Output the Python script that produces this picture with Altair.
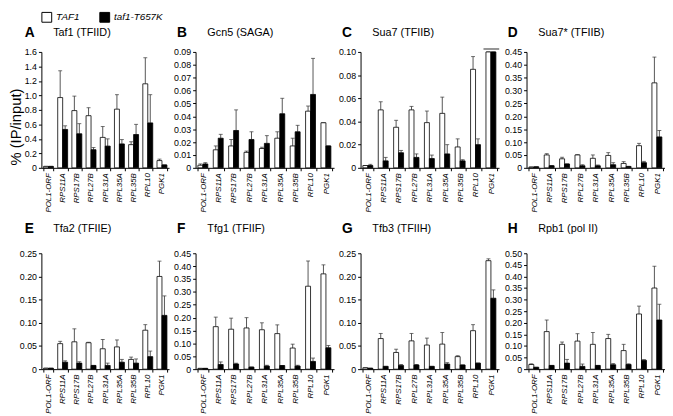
import altair as alt
import pandas as pd

genes = ["POL1-ORF", "RPS11A", "RPS17B", "RPL27B", "RPL31A", "RPL35A", "RPL35B", "RPL10", "PGK1"]
strains = ["TAF1", "taf1-T657K"]

letters = ["A", "B", "C", "D", "E", "F", "G", "H"]
names = ["Taf1 (TFIID)", "Gcn5 (SAGA)", "Sua7 (TFIIB)", "Sua7* (TFIIB)",
         "Tfa2 (TFIIE)", "Tfg1 (TFIIF)", "Tfb3 (TFIIH)", "Rpb1 (pol II)"]

# y-axis ticks per panel
ticks_A = [0, 0.2, 0.4, 0.6, 0.8, 1.0, 1.2, 1.4, 1.6]
ticks_B = [0, 0.01, 0.02, 0.03, 0.04, 0.05, 0.06, 0.07, 0.08, 0.09]
ticks_C = [0, 0.02, 0.04, 0.06, 0.08, 0.10]
ticks_D = [0, 0.05, 0.10, 0.15, 0.20, 0.25, 0.30, 0.35, 0.40, 0.45]
ticks_E = [0, 0.05, 0.10, 0.15, 0.20, 0.25]
ticks_F = [0, 0.05, 0.10, 0.15, 0.20, 0.25, 0.30, 0.35, 0.40, 0.45]
ticks_G = [0, 0.05, 0.10, 0.15, 0.20, 0.25]
ticks_H = [0, 0.05, 0.10, 0.15, 0.20, 0.25, 0.30, 0.35, 0.40, 0.45, 0.50]

# A  Taf1 (TFIID)
A_wt = [0.02, 0.97, 0.79, 0.72, 0.42, 0.81, 0.32, 1.16, 0.10]
A_wt_err = [0.02, 1.34, 0.99, 0.83, 0.57, 1.01, 0.36, 1.52, 0.12]
A_mut = [0.02, 0.53, 0.47, 0.25, 0.30, 0.33, 0.46, 0.62, 0.04]
A_mut_err = [0.02, 0.58, 0.61, 0.28, 0.40, 0.39, 0.60, 1.01, 0.04]
# B  Gcn5 (SAGA)
B_wt = [0.002, 0.014, 0.017, 0.012, 0.015, 0.023, 0.017, 0.044, 0.035]
B_wt_err = [0.003, 0.017, 0.022, 0.013, 0.016, 0.028, 0.023, 0.048, 0.035]
B_mut = [0.003, 0.023, 0.029, 0.022, 0.019, 0.042, 0.028, 0.057, 0.017]
B_mut_err = [0.004, 0.026, 0.045, 0.028, 0.025, 0.054, 0.033, 0.085, 0.017]
# C  Sua7 (TFIIB)  (PGK1 off scale)
C_wt = [0.002, 0.050, 0.035, 0.050, 0.039, 0.047, 0.018, 0.085, 0.10]
C_wt_err = [0.002, 0.057, 0.041, 0.053, 0.049, 0.061, 0.025, 0.096, 0.10]
C_mut = [0.002, 0.006, 0.013, 0.009, 0.008, 0.012, 0.006, 0.020, 0.10]
C_mut_err = [0.003, 0.009, 0.015, 0.012, 0.011, 0.020, 0.007, 0.025, 0.10]
C_break_gene = ["PGK1"]
C_break_val = [0.10]
# D  Sua7* (TFIIB)
D_wt = [0.003, 0.050, 0.035, 0.050, 0.037, 0.048, 0.017, 0.086, 0.33]
D_wt_err = [0.003, 0.055, 0.041, 0.051, 0.050, 0.059, 0.024, 0.095, 0.43]
D_mut = [0.004, 0.008, 0.015, 0.008, 0.008, 0.012, 0.005, 0.020, 0.12]
D_mut_err = [0.004, 0.009, 0.015, 0.012, 0.011, 0.020, 0.006, 0.025, 0.145]
# E  Tfa2 (TFIIE)
E_wt = [0.002, 0.055, 0.059, 0.057, 0.044, 0.048, 0.021, 0.084, 0.200]
E_wt_err = [0.002, 0.060, 0.087, 0.058, 0.064, 0.063, 0.026, 0.096, 0.233]
E_mut = [0.002, 0.015, 0.013, 0.008, 0.008, 0.015, 0.013, 0.027, 0.116]
E_mut_err = [0.002, 0.018, 0.016, 0.008, 0.013, 0.021, 0.022, 0.039, 0.158]
# F  Tfg1 (TFIIF)
F_wt = [0.003, 0.165, 0.155, 0.160, 0.153, 0.138, 0.082, 0.322, 0.370]
F_wt_err = [0.003, 0.202, 0.198, 0.200, 0.180, 0.172, 0.097, 0.420, 0.405]
F_mut = [0.003, 0.018, 0.020, 0.008, 0.012, 0.014, 0.012, 0.030, 0.083]
F_mut_err = [0.003, 0.028, 0.023, 0.008, 0.015, 0.014, 0.015, 0.043, 0.092]
# G  Tfb3 (TFIIH)
G_wt = [0.003, 0.066, 0.036, 0.061, 0.052, 0.054, 0.027, 0.083, 0.234]
G_wt_err = [0.003, 0.077, 0.043, 0.077, 0.067, 0.079, 0.029, 0.096, 0.238]
G_mut = [0.002, 0.006, 0.008, 0.009, 0.006, 0.011, 0.009, 0.013, 0.153]
G_mut_err = [0.002, 0.006, 0.010, 0.010, 0.006, 0.014, 0.009, 0.013, 0.171]
# H  Rpb1 (pol II)
H_wt = [0.020, 0.162, 0.107, 0.121, 0.107, 0.132, 0.080, 0.238, 0.350]
H_wt_err = [0.023, 0.212, 0.117, 0.153, 0.158, 0.150, 0.107, 0.272, 0.444]
H_mut = [0.008, 0.016, 0.026, 0.012, 0.016, 0.019, 0.020, 0.038, 0.212]
H_mut_err = [0.008, 0.016, 0.042, 0.022, 0.016, 0.024, 0.023, 0.041, 0.280]

panels_data = [
    (A_wt, A_wt_err, A_mut, A_mut_err, ticks_A, ".1f"),
    (B_wt, B_wt_err, B_mut, B_mut_err, ticks_B, ".2f"),
    (C_wt, C_wt_err, C_mut, C_mut_err, ticks_C, ".2f"),
    (D_wt, D_wt_err, D_mut, D_mut_err, ticks_D, ".2f"),
    (E_wt, E_wt_err, E_mut, E_mut_err, ticks_E, ".2f"),
    (F_wt, F_wt_err, F_mut, F_mut_err, ticks_F, ".2f"),
    (G_wt, G_wt_err, G_mut, G_mut_err, ticks_G, ".2f"),
    (H_wt, H_wt_err, H_mut, H_mut_err, ticks_H, ".2f"),
]

FONT = "Liberation Sans"
H = 118


def make_panel(i):
    wt, wte, mu, mue, ticks, fmt = panels_data[i]
    strain_col = [strains[0]] * len(genes) + [strains[1]] * len(genes)
    df = pd.DataFrame({"gene": genes + genes, "strain": strain_col,
                       "value": wt + mu, "err": wte + mue})
    df_cap = pd.DataFrame({"gene": genes + genes, "strain": strain_col,
                           "value": wte + mue})
    row2 = i >= 4
    width = 130 if i % 4 == 0 else 141
    yaxis_kw = dict(
        values=ticks,
        labelExpr=f"datum.value == 0 ? '0' : format(datum.value, '{fmt}')",
        tickSize=3, labelPadding=2, labelFontSize=9, grid=False,
        labelOverlap=False, labelBound=False, labelFlush=False,
    )
    if i == 0:
        yaxis_kw.update(title="% (IP/input)", titleFontSize=15, titleFontWeight="normal",
                        titlePadding=1, titleY=76, titleAlign="center",
                        titleBaseline="bottom", titleAngle=-90)
    else:
        yaxis_kw.update(title=None)
    yscale = alt.Scale(domain=[0, ticks[-1]], nice=False, clamp=True)
    y = alt.Y("value:Q", scale=yscale, axis=alt.Axis(**yaxis_kw))
    x = alt.X("gene:N", sort=genes,
              scale=alt.Scale(paddingInner=0.3, paddingOuter=0.15),
              axis=alt.Axis(title=None, labelAngle=-90, labelFontStyle="italic",
                            labelFontSize=8, tickBand="extent", tickSize=3,
                            labelPadding=2))
    xo = alt.XOffset("strain:N", sort=strains)
    bars = alt.Chart(df).mark_bar(stroke="black", strokeWidth=0.8).encode(
        x=x, xOffset=xo, y=y,
        fill=alt.Fill("strain:N", sort=strains,
                      scale=alt.Scale(domain=strains, range=["white", "black"]),
                      legend=alt.Legend(title=None)),
    )
    err = alt.Chart(df).mark_rule(color="#555555", strokeWidth=1).encode(
        x=x, xOffset=xo, y=y, y2="err:Q")
    cap = alt.Chart(df_cap).mark_tick(color="#333333", size=4, thickness=1).encode(
        x=x, xOffset=xo, y=y)
    ty = -25 if row2 else -19
    lx = -17 if i % 4 == 0 else -19
    let = alt.Chart(pd.DataFrame({"t": [letters[i]]})).mark_text(
        fontWeight="bold", fontSize=14, align="left", baseline="middle", font=FONT
    ).encode(x=alt.value(lx), y=alt.value(ty), text="t:N")
    ttl = alt.Chart(pd.DataFrame({"t": [names[i]]})).mark_text(
        fontSize=11, align="left", baseline="middle", font=FONT
    ).encode(x=alt.value(12), y=alt.value(ty), text="t:N")
    layers = [err, cap, bars]
    if i == 2:
        brk = alt.Chart(pd.DataFrame({"gene": C_break_gene, "value": C_break_val})).mark_tick(
            color="black", size=16, thickness=1.2, yOffset=-3
        ).encode(x=x, y=y)
        layers.append(brk)
    layers += [let, ttl]
    return alt.layer(*layers).properties(width=width, height=H)


chart = alt.concat(*[make_panel(i) for i in range(8)], columns=4,
                   spacing={"row": 9, "column": 4}).properties(
    padding={"left": 0, "top": 0, "right": 0, "bottom": 0}
).configure_view(stroke=None).configure_axis(
    labelFont=FONT, titleFont=FONT, domainColor="black", tickColor="black",
    labelColor="black", titleColor="black", domainWidth=1, tickWidth=1,
).configure_legend(
    orient="top", direction="horizontal", symbolType="square", symbolSize=100,
    symbolStrokeColor="black", symbolStrokeWidth=1, labelFont=FONT,
    labelFontStyle="italic", labelFontSize=10, labelColor="black",
    columnPadding=18, offset=2, padding=0,
)

chart.save("out.html", embed_options={"renderer": "svg", "actions": False})
